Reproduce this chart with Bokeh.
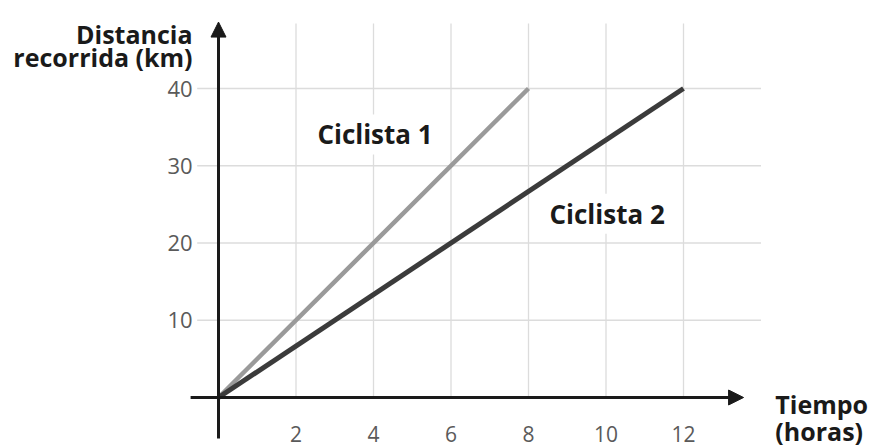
from bokeh.plotting import figure
from bokeh.models import Arrow, NormalHead, Range1d
from bokeh.core.properties import value
from bokeh.embed import file_html
from bokeh.resources import INLINE

# ---- data ----
tiempo_c1 = [0, 8]
dist_c1 = [0, 40]
tiempo_c2 = [0, 12]
dist_c2 = [0, 40]
x_ticks = [2, 4, 6, 8, 10, 12]
y_ticks = [10, 20, 30, 40]
x_tick_labels = ["2", "4", "6", "8", "10", "12"]
y_tick_labels = ["10", "20", "30", "40"]
serie_labels = ["Ciclista 1", "Ciclista 2"]
y_title = ["Distancia", "recorrida (km)"]
x_title = ["Tiempo", "(horas)"]

W, H = 871, 447
X0, SX = 218.0, 38.75     # pixel of x=0, px per unit
Y0, SY = 397.0, 7.725     # pixel of y=0 (from top), px per unit

p = figure(width=W, height=H, output_backend="svg", toolbar_location=None,
           x_axis_location=None, y_axis_location=None, min_border=0,
           x_range=Range1d(-X0 / SX, (W - X0) / SX),
           y_range=Range1d(-(H - Y0) / SY, Y0 / SY))
p.outline_line_color = None
p.xgrid.visible = False
p.ygrid.visible = False
p.background_fill_color = "white"
p.border_fill_color = "white"

grid_col = "#dcdcdc"
GRID_TOP = 48.4
GRID_LEFT, GRID_RIGHT = -0.55, 14.0

# grid
p.segment(x0=x_ticks, y0=[0] * len(x_ticks), x1=x_ticks, y1=[GRID_TOP] * len(x_ticks),
          line_color=grid_col, line_width=1.3)
p.segment(x0=[GRID_LEFT] * len(y_ticks), y0=y_ticks, x1=[GRID_RIGHT] * len(y_ticks), y1=y_ticks,
          line_color=grid_col, line_width=1.3)

# series
p.line(tiempo_c1, dist_c1, line_color="#9a9a9a", line_width=4.5)
p.line(tiempo_c2, dist_c2, line_color="#3b3b3b", line_width=5)

# axes with arrows
axis_col = "#1a1a1a"
p.add_layout(Arrow(end=NormalHead(size=15, fill_color=axis_col, line_color=axis_col),
                   x_start=-0.72, y_start=0, x_end=13.55, y_end=0,
                   line_color=axis_col, line_width=3))
p.add_layout(Arrow(end=NormalHead(size=15, fill_color=axis_col, line_color=axis_col),
                   x_start=0, y_start=-5.3, x_end=0, y_end=48.6,
                   line_color=axis_col, line_width=3))

# tick labels
tick_col = "#5a5a5a"
p.text(x=x_ticks, y=[-4.7] * len(x_ticks), text=x_tick_labels,
       text_font=value("Open Sans"), text_font_size="21px", text_color=tick_col,
       text_align="center", text_baseline="middle")
p.text(x=[-0.67] * len(y_ticks), y=y_ticks, text=y_tick_labels,
       text_font=value("Open Sans"), text_font_size="22px", text_color=tick_col,
       text_align="right", text_baseline="middle")

# series labels
p.text(x=[2.5, 8.49], y=[34.05, 23.8], text=serie_labels,
       text_font=value("Open Sans"), text_font_style="bold", text_font_size="26px",
       text_color="#1a1a1a", text_align="left", text_baseline="middle",
       background_fill_color="white", padding=2)

# axis titles
p.text(x=[-0.67, -0.67], y=[47.1, 44.1], text=y_title,
       text_font=value("Open Sans"), text_font_style="bold", text_font_size="25px",
       text_color="#1a1a1a", text_align="right", text_baseline="alphabetic")
p.text(x=[14.37, 14.37], y=[-0.78, -4.4], text=x_title,
       text_font=value("Open Sans"), text_font_style="bold", text_font_size="25px",
       text_color="#1a1a1a", text_align="left", text_baseline="alphabetic")

open("out.html", "w").write(file_html(p, INLINE))
